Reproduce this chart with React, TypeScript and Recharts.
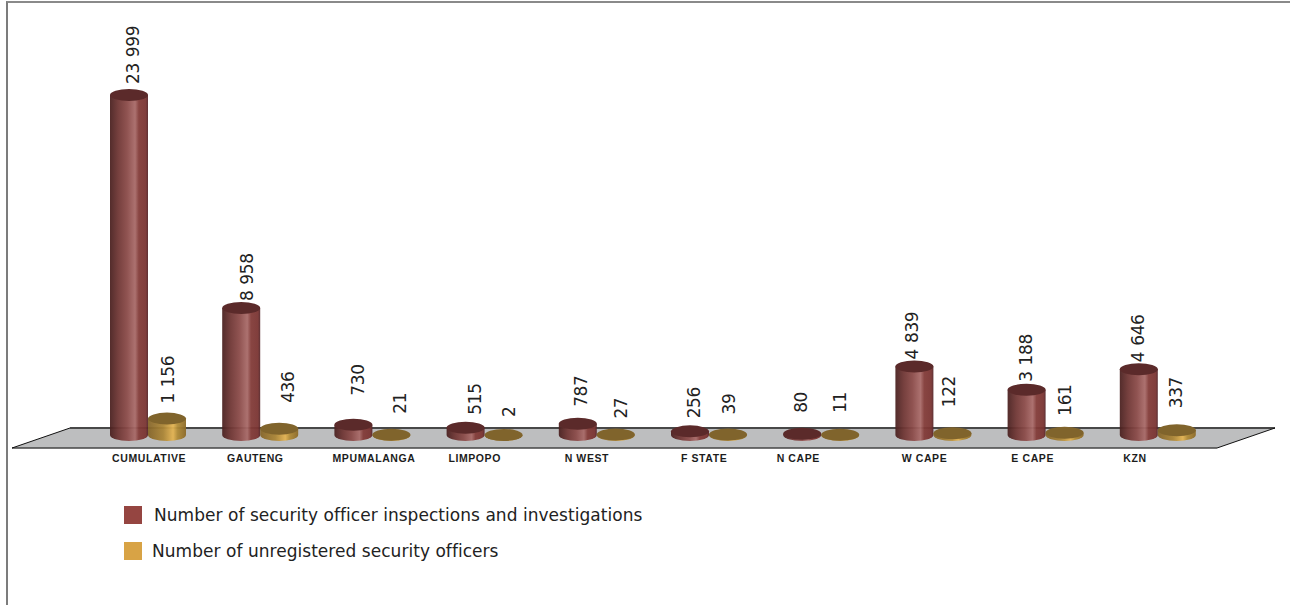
import React from "react";
import { BarChart, Bar, XAxis, YAxis, Legend, LabelList } from "recharts";

const categories = ["CUMULATIVE", "GAUTENG", "MPUMALANGA", "LIMPOPO", "N WEST", "F STATE", "N CAPE", "W CAPE", "E CAPE", "KZN"];
const inspections = [23999, 8958, 730, 515, 787, 256, 80, 4839, 3188, 4646];
const unregistered = [1156, 436, 21, 2, 27, 39, 11, 122, 161, 337];
const inspectionsName = "Number of security officer inspections and investigations";
const unregisteredName = "Number of unregistered security officers";

const rows = categories.map((name, i) => ({ name, inspections: inspections[i], unregistered: unregistered[i] }));

// Hand-placed label offsets, as in the slide the chart was built for.
const tickShift = [1, -5, 1.5, -10, -10, -5, -23, -9, -13, -23];
const inspectionLift = [11, 7, 29, 13, 17, 13, 21, 7, 8, 7];
const inspectionSide = [4, 6, 5, 9, 3, 4, -1, -2, -1, -1];
const unregisteredLift = [15, 26, 21, 18, 16, 20, 22, 26, 17, 22];
const unregisteredSide = [1, 9, 9, 5, 5, 1, 0, -3, 0, -1];

const RY = 6;
const fmt = (v: number) => String(v).replace(/\B(?=(\d{3})+$)/g, " ");

function Cylinder({ x, y, width, height, body, cap }: any) {
  const rx = width / 2;
  const base = y + height;
  const d = `M${x},${y} L${x},${base} A${rx},${RY} 0 0 0 ${x + width},${base} L${x + width},${y} Z`;
  return (
    <g>
      <path d={d} fill={`url(#${body})`} fillOpacity={0.95} />
      <ellipse cx={x + rx} cy={y} rx={rx} ry={RY} fill={cap} />
    </g>
  );
}

function ValueLabel({ x, y, width, value, index, lift, side }: any) {
  return (
    <text
      transform={`translate(${x + width / 2 + side[index]},${y - lift[index]}) rotate(-90)`}
      fontFamily="'DejaVu Sans'"
      fontSize={17}
      letterSpacing={-0.4}
      wordSpacing={1}
      fill="#222"
      dominantBaseline="central"
    >
      {fmt(value)}
    </text>
  );
}

function CategoryTick({ x, y, payload, index }: any) {
  return (
    <text
      x={x + tickShift[index]}
      y={y + 15}
      textAnchor="middle"
      dominantBaseline="central"
      fontFamily="'Liberation Sans'"
      fontWeight="bold"
      fontSize={10.5}
      letterSpacing={0.6}
      fill="#1c1c1c"
    >
      {payload.value}
    </text>
  );
}

function LegendRows({ payload }: any) {
  return (
    <div style={{ fontFamily: "'DejaVu Sans'", fontSize: 17, letterSpacing: 0.04, color: "#222", lineHeight: "18px", textAlign: "left" }}>
      {(payload || []).map((p: any, i: number) => (
        <div key={p.value} style={{ display: "flex", alignItems: "center", height: 18, marginBottom: 18 }}>
          <span style={{ width: 18, height: 18, background: p.color, display: "inline-block" }} />
          <span style={{ marginLeft: i === 0 ? 12 : 10, whiteSpace: "nowrap" }}>{p.value}</span>
        </div>
      ))}
    </div>
  );
}

export default function App() {
  return (
    <div style={{ position: "absolute", left: 0, top: 0, width: 1290, height: 605, background: "#fff", overflow: "hidden" }}>
      <div style={{ position: "absolute", left: 6, top: 1, right: 0, bottom: 0, borderLeft: "2px solid #7c7c7c", borderTop: "2px solid #8a8a8a" }} />
      <div style={{ position: "absolute", left: 0, top: 0 }}>
        <BarChart
          width={1290}
          height={605}
          data={rows}
          margin={{ top: 95, right: 76, bottom: 140, left: 92 }}
          barSize={38}
          barGap={0}
        >
          <defs>
            <linearGradient id="maroonBody" x1="0" x2="1" y1="0" y2="0">
              <stop offset="0" stopColor="#4a2120" />
              <stop offset="0.22" stopColor="#6f3634" />
              <stop offset="0.45" stopColor="#8a4a48" />
              <stop offset="0.66" stopColor="#a86a68" />
              <stop offset="0.76" stopColor="#823b38" />
              <stop offset="0.94" stopColor="#7a3432" />
              <stop offset="1" stopColor="#55262a" />
            </linearGradient>
            <linearGradient id="goldBody" x1="0" x2="1" y1="0" y2="0">
              <stop offset="0" stopColor="#85652a" />
              <stop offset="0.4" stopColor="#ab8536" />
              <stop offset="0.66" stopColor="#e3b352" />
              <stop offset="0.78" stopColor="#b08a36" />
              <stop offset="1" stopColor="#8c6a28" />
            </linearGradient>
          </defs>
          <polygon points="12,448 1217,448 1275,428 70,428" fill="#bdbebf" />
          <line x1={70} y1={428} x2={1275} y2={428} stroke="#484848" strokeWidth={2} />
          <line x1={12} y1={448} x2={1217} y2={448} stroke="#444" strokeWidth={1.5} />
          <line x1={12} y1={448} x2={70} y2={428} stroke="#111" strokeWidth={1} />
          <line x1={1217} y1={448} x2={1275} y2={428} stroke="#111" strokeWidth={1} />
          <XAxis dataKey="name" axisLine={false} tickLine={false} interval={0} height={30} tick={<CategoryTick />} />
          <YAxis hide domain={[0, 23999]} />
          <Legend
            layout="vertical"
            align="center"
            verticalAlign="middle"
            wrapperStyle={{ left: 124, top: 506, width: 600 }}
            content={<LegendRows />}
          />
          <Bar
            dataKey="inspections"
            name={inspectionsName}
            fill="#954541"
            isAnimationActive={false}
            shape={(p: any) => <Cylinder {...p} body="maroonBody" cap="#5b2a2a" />}
          >
            <LabelList dataKey="inspections" content={(p: any) => <ValueLabel {...p} lift={inspectionLift} side={inspectionSide} />} />
          </Bar>
          <Bar
            dataKey="unregistered"
            name={unregisteredName}
            fill="#d8a345"
            isAnimationActive={false}
            shape={(p: any) => <Cylinder {...p} body="goldBody" cap="#80642c" />}
          >
            <LabelList dataKey="unregistered" content={(p: any) => <ValueLabel {...p} lift={unregisteredLift} side={unregisteredSide} />} />
          </Bar>
        </BarChart>
      </div>
    </div>
  );
}
